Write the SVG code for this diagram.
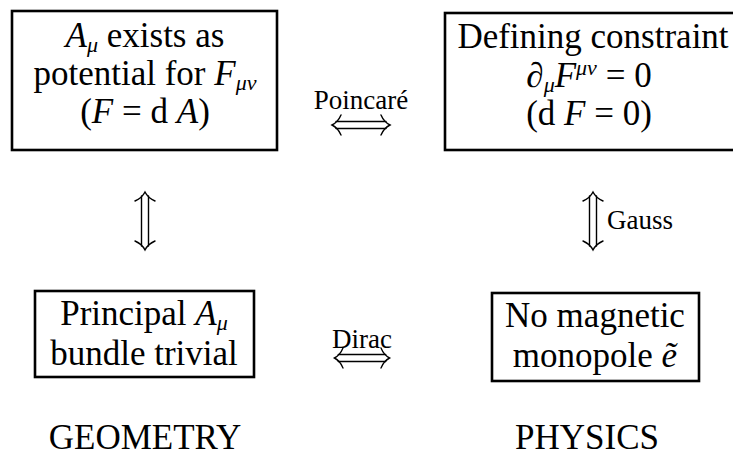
<svg xmlns="http://www.w3.org/2000/svg" width="733" height="456" viewBox="0 0 733 456">
<style>
.box{fill:#fff;stroke:#000;stroke-width:2.6}
.t{font-family:"Liberation Serif","Times New Roman",serif;font-size:35px;fill:#000;text-anchor:middle}
.lab{font-family:"Liberation Serif","Times New Roman",serif;font-size:27px;fill:#000}
.i{font-style:italic}
.s{font-size:22px}
.arr{fill:none;stroke:#000;stroke-width:1.4;stroke-linecap:round}
</style>
<defs>
<g id="dbl">
<path class="arr" d="M-25 -3.5H25M-25 3.5H25"/>
<path class="arr" d="M-20 -10Q-23 -3 -29 0Q-23 3 -20 10M20 -10Q23 -3 29 0Q23 3 20 10"/>
</g>
</defs>
<g id="n1">
<rect class="box" x="12" y="11" width="265" height="139"/>
<text class="t" x="145" y="47"><tspan class="i">A</tspan><tspan class="i s" dy="5">μ</tspan><tspan dy="-5"> exists as</tspan></text>
<text class="t" x="145" y="85">potential for <tspan class="i">F</tspan><tspan class="i s" dy="5">μν</tspan></text>
<text class="t" x="145" y="123">(<tspan class="i">F</tspan> = d <tspan class="i">A</tspan>)</text>
</g>
<g id="n2">
<rect class="box" x="445" y="13" width="300" height="137"/>
<text class="t" x="593" y="48">Defining constraint</text>
<text class="t" x="589" y="87"><tspan class="i">∂</tspan><tspan class="i s" dy="5">μ</tspan><tspan class="i" dy="-5">F</tspan><tspan class="i s" dy="-12">μν</tspan><tspan dy="12"> = 0</tspan></text>
<text class="t" x="589" y="125">(d <tspan class="i">F</tspan> = 0)</text>
</g>
<g id="n3">
<rect class="box" x="35" y="291" width="219" height="86"/>
<text class="t" x="144" y="325">Principal <tspan class="i">A</tspan><tspan class="i s" dy="5">μ</tspan></text>
<text class="t" x="144" y="365">bundle trivial</text>
</g>
<g id="n4">
<rect class="box" x="492" y="293" width="207" height="88"/>
<text class="t" x="595" y="327">No magnetic</text>
<text class="t" x="595" y="367">monopole <tspan class="i">ẽ</tspan></text>
</g>
<g id="n5"><text class="t" x="145" y="449">GEOMETRY</text></g>
<g id="n6"><text class="t" x="587" y="449">PHYSICS</text></g>
<g id="connectors">
<use href="#dbl" transform="translate(361 125)"/>
<text class="lab" x="361" y="109" text-anchor="middle">Poincaré</text>
<use href="#dbl" transform="translate(362 358) scale(0.95 1)"/>
<text class="lab" x="362" y="348" text-anchor="middle">Dirac</text>
<use href="#dbl" transform="translate(145 221) rotate(90)"/>
<use href="#dbl" transform="translate(593 221) rotate(90)"/>
<text class="lab" x="607" y="229">Gauss</text>
</g>
</svg>
